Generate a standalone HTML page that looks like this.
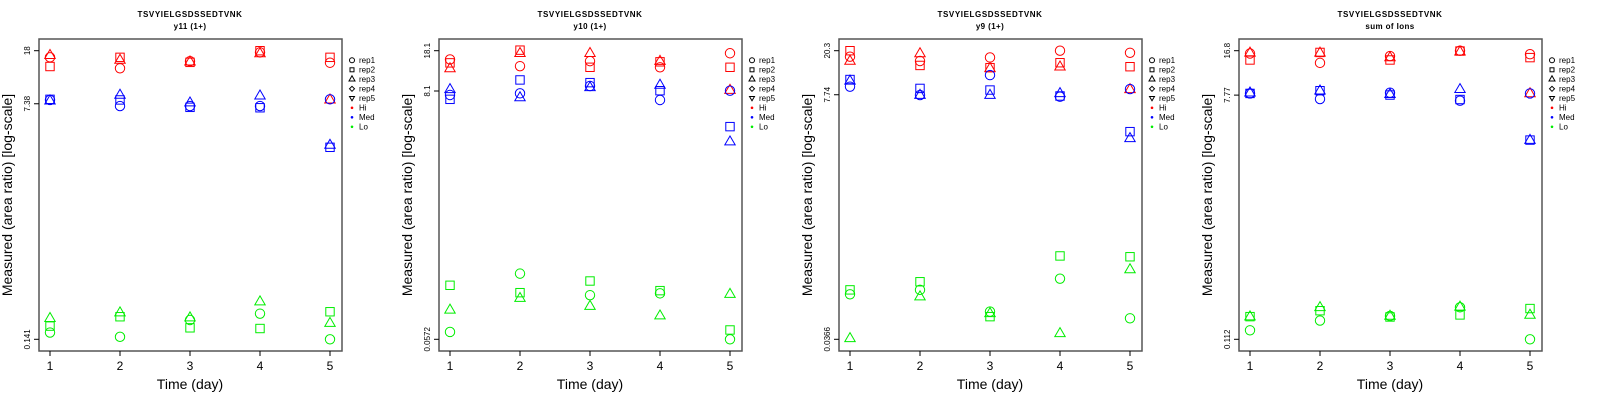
<!DOCTYPE html>
<html><head><meta charset="utf-8"><style>
html,body{margin:0;padding:0;background:#fff;}
svg{display:block;font-family:"Liberation Sans",sans-serif;}
</style></head><body>
<svg id="chart" width="1600" height="400" viewBox="0 0 1600 400" xmlns="http://www.w3.org/2000/svg"></svg>
<script>
const days = [1, 2, 3, 4, 5];
const panelTitles = ["y11 (1+)", "y10 (1+)", "y9 (1+)", "sum of Ions"];
const peptide = "TSVYIELGSDSSEDTVNK";
const yMin = [0.141, 0.0572, 0.0366, 0.112];
const yMax = [18, 18.1, 20.3, 16.8];
const yMid = [7.38, 8.1, 7.74, 7.77];
const yMinLabels = ["0.141", "0.0572", "0.0366", "0.112"];
const yMaxLabels = ["18", "18.1", "20.3", "16.8"];
const yMidLabels = ["7.38", "8.1", "7.74", "7.77"];
const levels = ["Hi", "Med", "Lo"];
const levelColors = ["#ff0000", "#0000ff", "#00ee00"];
const reps = ["rep1", "rep2", "rep3"];
// values[panel][level][rep] over days
const p1Hi = [[16.1,13.4,15.1,17.5,14.7],[13.8,16.1,14.8,18.0,16.1],[16.7,15.4,14.95,17.2,7.9]];
const p1Med = [[7.87,7.1,7.1,7.1,7.95],[7.95,7.87,6.95,6.9,3.55],[7.77,8.55,7.52,8.45,3.69]];
const p1Lo = [[0.158,0.147,0.195,0.217,0.141],[0.176,0.206,0.171,0.169,0.224],[0.201,0.221,0.203,0.266,0.185]];
const p2Hi = [[15.2,13.3,14.7,13.0,17.2],[14.2,18.3,13.0,14.5,13.0],[12.7,17.2,17.2,14.7,8.26]];
const p2Med = [[7.48,7.73,8.95,6.77,8.15],[6.86,10.1,9.57,8.15,3.98],[8.37,7.13,8.71,9.13,2.95]];
const p2Lo = [[0.0662,0.212,0.138,0.143,0.0572],[0.168,0.145,0.183,0.151,0.0689],[0.103,0.130,0.111,0.0917,0.141]];
const p3Hi = [[17.8,16.2,17.5,20.3,19.4],[20.3,14.7,14.0,15.6,14.3],[16.2,19.1,13.8,14.3,8.71]];
const p3Med = [[9.24,7.69,11.9,7.41,8.77],[10.8,8.89,8.58,7.53,3.45],[10.5,7.69,7.69,7.98,2.98]];
const p3Lo = [[0.098,0.108,0.0671,0.138,0.058],[0.108,0.129,0.0601,0.227,0.223],[0.0374,0.0932,0.0647,0.0417,0.169]];
const p4Hi = [[16.0,13.6,15.3,16.8,15.8],[14.3,16.3,14.3,16.7,14.9],[16.2,16.2,14.95,16.5,8.0]];
const p4Med = [[8.0,7.26,8.1,7.05,8.0],[8.0,8.39,7.78,7.2,3.56],[8.1,8.39,7.9,8.6,3.56]];
const p4Lo = [[0.131,0.155,0.168,0.195,0.112],[0.166,0.184,0.165,0.171,0.191],[0.166,0.195,0.168,0.197,0.171]];
const panelData = [[p1Hi,p1Med,p1Lo],[p2Hi,p2Med,p2Lo],[p3Hi,p3Med,p3Lo],[p4Hi,p4Med,p4Lo]];
const legendLabels = ["rep1","rep2","rep3","rep4","rep5","Hi","Med","Lo"];

const NS = "http://www.w3.org/2000/svg";
const svg = document.getElementById("chart");
function mk(tag, attrs, parent, text){
  const e = document.createElementNS(NS, tag);
  for (const k in attrs) e.setAttribute(k, attrs[k]);
  if (text !== undefined) e.textContent = text;
  parent.appendChild(e);
  return e;
}
const BX0 = 39, BX1 = 342, BY0 = 39, BY1 = 351, TY0 = 50.7, TY1 = 339.3;
function xScale(d){ return 50 + (d - 1) * 70; }
function yScale(v, p){ return TY1 - (Math.log(v) - Math.log(yMin[p])) / (Math.log(yMax[p]) - Math.log(yMin[p])) * (TY1 - TY0); }
function marker(shape, x, y, color, g, size){
  const r = size || 4.7;
  let e;
  if (shape === 0) e = mk("circle", {cx:x, cy:y, r:r, fill:"none", stroke:color, "stroke-width":1}, g);
  else if (shape === 1) e = mk("rect", {x:x-r+0.5, y:y-r+0.5, width:2*r-1, height:2*r-1, fill:"none", stroke:color, "stroke-width":1}, g);
  else if (shape === 2) e = mk("polygon", {points:`${x},${y-r-1} ${x-r-0.5},${y+r*0.7} ${x+r+0.5},${y+r*0.7}`, fill:"none", stroke:color, "stroke-width":1}, g);
  else if (shape === 3) e = mk("polygon", {points:`${x},${y-r} ${x+r},${y} ${x},${y+r} ${x-r},${y}`, fill:"none", stroke:color, "stroke-width":1}, g);
  else if (shape === 4) e = mk("polygon", {points:`${x},${y+r} ${x-r},${y-r*0.7} ${x+r},${y-r*0.7}`, fill:"none", stroke:color, "stroke-width":1}, g);
  else e = mk("circle", {cx:x, cy:y, r:r, fill:color}, g);
  return e;
}
for (let p = 0; p < 4; p++){
  const g = mk("g", {transform:`translate(${p*400},0)`}, svg);
  
  
  const t1 = mk("text", {x:190, y:17, "text-anchor":"middle", "font-size":8, "font-weight":"bold", "letter-spacing":"0.6"}, g, peptide);
  
  
  const t2 = mk("text", {x:190, y:29, "text-anchor":"middle", "font-size":8, "font-weight":"bold", "letter-spacing":"0.4"}, g, panelTitles[p]);
  
  
  const box = mk("rect", {x:BX0, y:BY0, width:BX1-BX0, height:BY1-BY0, fill:"none", stroke:"#555", "stroke-width":1.5}, g);
  
  
  days.forEach(d => {
    const x = xScale(d);
    mk("line", {x1:x, y1:BY1, x2:x, y2:BY1+5, stroke:"#000", "stroke-width":1}, g);
    const tl = mk("text", {x:x, y:370, "text-anchor":"middle", "font-size":12}, g, String(d));
    
    
  });
  const xt = mk("text", {x:190, y:389, "text-anchor":"middle", "font-size":14}, g, "Time (day)");
  
  
  const tv = [yMin[p], yMid[p], yMax[p]], tlab = [yMinLabels[p], yMidLabels[p], yMaxLabels[p]];
  tv.forEach((v, i) => {
    const y = yScale(v, p);
    mk("line", {x1:BX0-5, y1:y, x2:BX0, y2:y, stroke:"#000", "stroke-width":1}, g);
    const yl = mk("text", {x:0, y:0, transform:`translate(30,${y}) rotate(-90)`, "text-anchor":"middle", "font-size":8}, g, tlab[i]);
    
    
  });
  const yt = mk("text", {x:0, y:0, transform:"translate(12,195) rotate(-90)", "text-anchor":"middle", "font-size":14}, g, "Measured (area ratio) [log-scale]");
  
  
  levels.forEach((lv, li) => {
    reps.forEach((rp, ri) => {
      days.forEach((d, di) => {
        const v = panelData[p][li][ri][di];
        const m = marker(ri, xScale(d), yScale(v, p), levelColors[li], g);
        
        
      });
    });
  });
  const lg = mk("g", {}, g);
  
  
  legendLabels.forEach((lab, i) => {
    const y = 60.3 + i * 9.5;
    let m;
    if (i < 5) m = marker(i, 352, y, "#000", lg, 2.5);
    else m = mk("circle", {cx:352, cy:y, r:1.3, fill:levelColors[i-5]}, lg);
    
    
    const tx = mk("text", {x:359, y:y+2.8, "font-size":8}, lg, lab);
    
    
  });
}
</script>
</body></html>
